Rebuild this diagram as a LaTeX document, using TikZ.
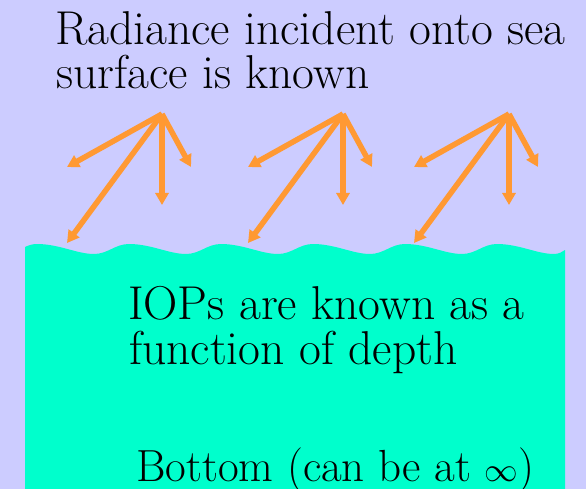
\documentclass[tikz,border=0pt]{standalone}
\usepackage{graphicx}
\usetikzlibrary{arrows.meta}
\definecolor{skyc}{HTML}{CCCCFF}
\definecolor{seac}{HTML}{00FFCC}
\definecolor{rayc}{HTML}{FF9933}
\tikzset{
  ray/.style={draw=rayc, line width=5.5pt, -{Triangle[length=12pt,width=13pt]}},
  label/.style={anchor=base west, inner sep=0pt, font=\fontsize{47.5}{44}\selectfont}
}
\begin{document}
\begin{tikzpicture}[x=1pt,y=-1pt]
\useasboundingbox (0,0) rectangle (586,489);
\fill[skyc] (0,0) rectangle (586,489);
% sea
\fill[seac] (25,489) -- (25,247) .. controls (29,245) and (33,244) .. (37,244)
  \foreach \p in {37,129,221,313,405} {
    .. controls (\p+22,244) and (\p+40,254) .. (\p+57,254)
    .. controls (\p+71,254) and (\p+78,244) .. (\p+92,244)
  }
  .. controls (519,244) and (537,254) .. (554,254)
  .. controls (559,254) and (562,252) .. (565,250) -- (565,489) -- cycle;
% rays
\foreach \i/\x in {1/162,2/343,3/509} {
  \coordinate (o\i) at (\x,114);
  \coordinate (l\i) at (\x-95,167);
  \coordinate (f\i) at (\x-95,243);
  \coordinate (d\i) at (\x,205);
  \coordinate (r\i) at (\x+29,167);
  \draw[ray] (o\i) -- (l\i);
  \draw[ray] (o\i) -- (f\i);
  \draw[ray] (o\i) -- (d\i);
  \draw[ray] (o\i) -- (r\i);
}
% texts
\node[label] (t1) at (55,45) {Radiance incident onto sea};
\node[label] (t2) at (56,89) {surface is known};
\node[label] (t3) at (128,319) {IOPs are known as a};
\node[label] (t4) at (129,364) {function of depth};
\node[label, font=\fontsize{45}{44}\selectfont] (t5) at (136,481) {Bottom (can be at \scalebox{1.35}{$\infty$})};
\end{tikzpicture}
\end{document}
